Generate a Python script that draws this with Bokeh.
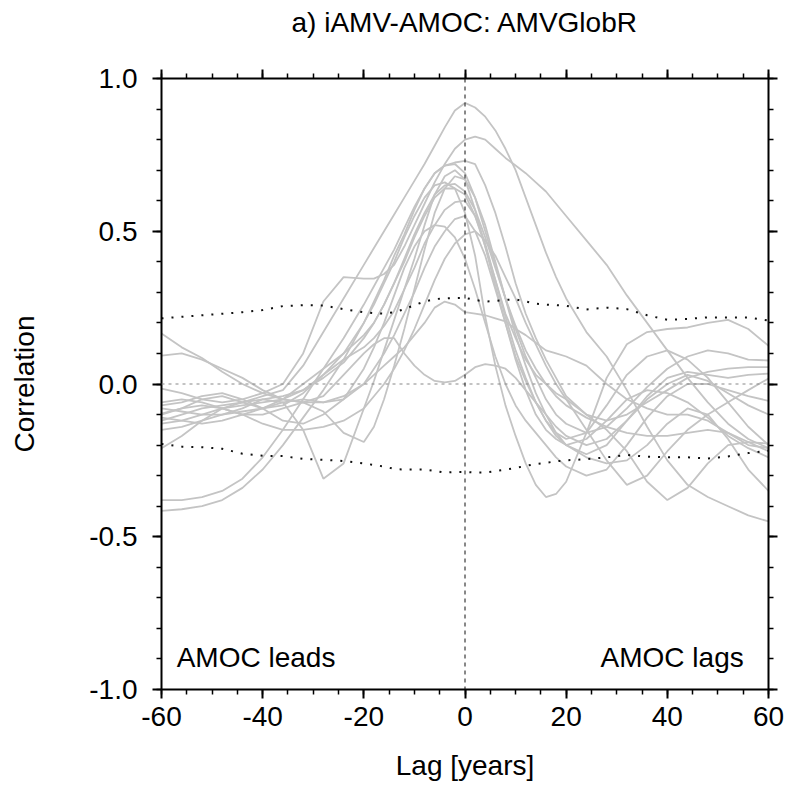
from bokeh.plotting import figure
from bokeh.layouts import column
from bokeh.models import LinearAxis, FixedTicker, PrintfTickFormatter, Span, Label, Range1d
from bokeh.embed import file_html
from bokeh.resources import INLINE

# Lag axis (years): every 4 years in the tails, every 2 years near lag 0
lags = list(range(-60, -20, 4)) + list(range(-20, 21, 2)) + list(range(24, 61, 4))

# Correlation of iAMV with AMOC for each model
m01 = [-0.12,-0.10,-0.08,-0.07,-0.06,-0.04,-0.02,0.06,0.17,0.28,
       0.39,0.445,0.50,0.555,0.61,0.665,0.72,0.78,0.84,0.895,0.92,0.905,0.875,0.83,0.77,0.70,0.61,0.52,0.43,0.35,0.28,
       0.17,0.09,-0.02,-0.14,-0.25,-0.33,-0.37,-0.40,-0.43,-0.45]
m02 = [-0.015,-0.03,-0.05,-0.06,-0.05,-0.03,0.00,0.10,0.27,0.35,
       0.345,0.345,0.36,0.39,0.45,0.52,0.59,0.66,0.72,0.77,0.80,0.81,0.80,0.77,0.74,0.715,0.69,0.66,0.63,0.59,0.55,
       0.47,0.39,0.29,0.20,0.11,0.02,-0.06,-0.13,-0.18,-0.21]
m03 = [-0.38,-0.38,-0.37,-0.35,-0.31,-0.24,-0.15,-0.05,0.05,0.15,
       0.26,0.32,0.38,0.44,0.51,0.58,0.64,0.69,0.715,0.725,0.73,0.72,0.65,0.56,0.45,0.33,0.23,0.15,0.08,0.02,-0.04,
       -0.10,-0.12,-0.10,-0.06,-0.02,0.02,0.04,0.05,0.055,0.055]
m04 = [-0.415,-0.41,-0.40,-0.38,-0.34,-0.28,-0.20,-0.11,-0.02,0.08,
       0.20,0.27,0.34,0.42,0.49,0.57,0.64,0.69,0.715,0.72,0.69,0.61,0.50,0.39,0.28,0.18,0.09,0.02,-0.05,-0.10,-0.13,
       -0.16,-0.14,-0.08,-0.01,0.05,0.09,0.11,0.10,0.08,0.077]
m05 = [-0.08,-0.09,-0.10,-0.10,-0.08,-0.05,-0.06,-0.15,-0.31,-0.26,
       -0.08,0.01,0.11,0.21,0.31,0.41,0.52,0.62,0.68,0.70,0.67,0.57,0.45,0.32,0.20,0.09,0.01,-0.06,-0.12,-0.16,-0.18,
       -0.16,-0.07,0.03,0.09,0.11,0.08,0.02,-0.06,-0.14,-0.20]
m06 = [-0.06,-0.05,-0.06,-0.08,-0.10,-0.10,-0.08,-0.06,-0.09,-0.16,
       -0.19,-0.14,-0.05,0.06,0.18,0.31,0.44,0.56,0.64,0.68,0.67,0.61,0.52,0.40,0.28,0.16,0.06,-0.03,-0.10,-0.16,-0.20,
       -0.23,-0.20,-0.12,-0.04,0.02,0.04,0.03,0.02,0.03,0.034]
m07 = [-0.10,-0.08,-0.05,-0.04,-0.06,-0.08,-0.07,-0.03,0.03,0.10,
       0.20,0.26,0.33,0.40,0.48,0.55,0.61,0.65,0.66,0.64,0.56,0.42,0.22,0.06,-0.07,-0.17,-0.26,-0.33,-0.37,-0.36,-0.32,
       -0.16,0.02,0.13,0.17,0.18,0.185,0.20,0.21,0.18,0.125]
m08 = [-0.11,-0.12,-0.13,-0.12,-0.10,-0.08,-0.05,0.00,0.05,0.10,
       0.16,0.20,0.26,0.33,0.41,0.49,0.56,0.62,0.65,0.655,0.63,0.57,0.48,0.38,0.28,0.19,0.11,0.05,0.00,-0.04,-0.07,
       -0.11,-0.14,-0.16,-0.17,-0.17,-0.16,-0.15,-0.16,-0.19,-0.22]
m09 = [-0.13,-0.12,-0.10,-0.08,-0.07,-0.06,-0.05,-0.02,0.03,0.08,
       0.12,0.15,0.19,0.24,0.31,0.38,0.46,0.52,0.57,0.595,0.60,0.55,0.46,0.34,0.23,0.15,0.08,0.03,0.00,-0.03,-0.05,
       -0.10,-0.15,-0.22,-0.32,-0.38,-0.34,-0.26,-0.20,-0.19,-0.195]
m10 = [-0.15,-0.14,-0.12,-0.10,-0.09,-0.08,-0.06,-0.05,-0.06,-0.05,
       0.00,0.05,0.10,0.16,0.23,0.30,0.38,0.45,0.50,0.54,0.55,0.50,0.42,0.31,0.20,0.08,-0.02,-0.10,-0.15,-0.18,-0.20,
       -0.18,-0.12,-0.05,-0.02,-0.03,-0.06,-0.11,-0.17,-0.21,-0.24]
m11 = [-0.07,-0.06,-0.04,-0.03,-0.05,-0.08,-0.12,-0.13,-0.10,-0.05,
       0.05,0.12,0.20,0.29,0.38,0.45,0.50,0.52,0.515,0.48,0.41,0.31,0.20,0.09,0.00,-0.07,-0.12,-0.16,-0.20,-0.24,-0.27,
       -0.30,-0.28,-0.20,-0.11,-0.04,0.00,0.00,-0.02,-0.04,-0.055]
m12 = [-0.097,-0.08,-0.07,-0.08,-0.10,-0.13,-0.15,-0.15,-0.14,-0.12,
       -0.08,-0.04,0.00,0.05,0.11,0.18,0.26,0.34,0.41,0.46,0.49,0.50,0.47,0.42,0.35,0.28,0.20,0.13,0.06,0.00,-0.05,
       -0.15,-0.25,-0.33,-0.30,-0.22,-0.15,-0.10,-0.06,-0.02,0.018]
m13 = [0.165,0.12,0.085,0.04,0.00,-0.03,-0.05,-0.06,-0.06,-0.04,
       0.00,0.03,0.06,0.09,0.12,0.16,0.20,0.25,0.27,0.26,0.235,0.23,0.225,0.215,0.205,0.18,0.16,0.135,0.11,0.10,0.09,
       0.06,0.00,-0.05,-0.08,-0.10,-0.10,-0.12,-0.16,-0.20,-0.21]
m14 = [0.093,0.10,0.08,0.05,0.02,-0.02,-0.05,-0.06,-0.04,0.03,
       0.10,0.13,0.15,0.15,0.10,0.06,0.03,0.01,0.005,0.01,0.03,0.055,0.065,0.06,0.05,0.02,-0.02,-0.06,-0.10,-0.14,-0.17,
       -0.20,-0.18,-0.12,-0.05,0.00,0.03,0.01,-0.03,-0.07,-0.10]
m15 = [-0.21,-0.17,-0.12,-0.08,-0.06,-0.05,-0.04,-0.02,0.02,0.07,
       0.15,0.20,0.26,0.33,0.40,0.48,0.55,0.61,0.64,0.64,0.62,0.55,0.45,0.34,0.22,0.11,0.02,-0.06,-0.12,-0.17,-0.20,
       -0.24,-0.26,-0.25,-0.20,-0.13,-0.08,-0.10,-0.18,-0.28,-0.35]

# Significance levels (dotted)
sig_upper = [0.215,0.22,0.225,0.23,0.235,0.242,0.255,0.258,0.257,0.245,
             0.235,0.232,0.23,0.235,0.245,0.258,0.27,0.278,0.28,0.281,0.282,0.275,0.27,0.272,0.275,0.277,0.27,0.263,0.26,0.258,0.256,
             0.244,0.25,0.245,0.225,0.21,0.213,0.218,0.218,0.218,0.208]
sig_lower = [-0.196,-0.205,-0.207,-0.212,-0.228,-0.235,-0.236,-0.245,-0.248,-0.252,
             -0.26,-0.265,-0.27,-0.278,-0.28,-0.28,-0.28,-0.285,-0.29,-0.288,-0.288,-0.29,-0.29,-0.285,-0.28,-0.275,-0.268,-0.262,-0.258,-0.253,-0.25,
             -0.246,-0.24,-0.232,-0.238,-0.24,-0.24,-0.244,-0.237,-0.226,-0.218]

x_ticks = [-60, -40, -20, 0, 20, 40, 60]
x_minor = [v for v in range(-60, 61, 5)]
y_ticks = [-1.0, -0.5, 0.0, 0.5, 1.0]
y_minor = [round(-1.0 + 0.1 * i, 1) for i in range(21)]

title_text = "a) iAMV-AMOC: AMVGlobR"
x_label = "Lag [years]"
y_label = "Correlation"
lead_text = "AMOC leads"
lag_text = "AMOC lags"

FONT = "Liberation Sans"
TITLE_H = 50

# Title strip (a figure of its own so the text is not clipped); its frame is
# aligned with the main frame, so it shares the lag range and is centred at lag 0
tf = figure(width=785, height=TITLE_H, output_backend="svg", toolbar_location=None,
            x_range=Range1d(-60, 60), y_range=Range1d(0, TITLE_H),
            x_axis_location=None, y_axis_location=None, min_border=0)
tf.outline_line_color = None
tf.grid.visible = False
tf.add_layout(Label(x=0, y=TITLE_H - 22, text=title_text, text_font=FONT, text_font_size="28px",
                    text_color="black", text_align="center", text_baseline="alphabetic"))

p = figure(width=785, height=785 - TITLE_H, output_backend="svg", toolbar_location=None,
           x_range=Range1d(-60, 60), y_range=Range1d(-1, 1),
           min_border_left=161, min_border_right=17, min_border_top=78 - TITLE_H, min_border_bottom=96)
p.outline_line_color = None
p.grid.visible = False
p.background_fill_color = "white"
p.border_fill_color = "white"

series = [m01, m02, m03, m04, m05, m06, m07, m08, m09, m10, m11, m12, m13, m14, m15]
for s in series:
    p.line(lags, s, line_color="#c4c4c4", line_width=1.8)

p.line(lags, sig_upper, line_color="#111111", line_width=2, line_dash="2 8")
p.line(lags, sig_lower, line_color="#111111", line_width=2, line_dash="2 8")

p.add_layout(Span(location=0, dimension="width", line_color="#888888", line_width=1.2, line_dash="3 4"))
p.add_layout(Span(location=0, dimension="height", line_color="#111111", line_width=1, line_dash="4 4"))

def style_axis(ax, labels=True):
    ax.axis_line_color = "black"
    ax.axis_line_width = 2
    ax.major_tick_line_color = "black"
    ax.major_tick_line_width = 2
    ax.minor_tick_line_color = "black"
    ax.minor_tick_line_width = 1.5
    ax.major_tick_in = 0
    ax.major_tick_out = 9
    ax.minor_tick_in = 0
    ax.minor_tick_out = 5
    if labels:
        ax.major_label_text_font = FONT
        ax.major_label_text_font_size = "28px"
        ax.major_label_text_color = "black"
        ax.axis_label_text_font = FONT
        ax.axis_label_text_font_size = "28px"
        ax.axis_label_text_font_style = "normal"
        ax.axis_label_text_color = "black"
    else:
        ax.major_label_text_font_size = "0px"
        ax.major_label_text_color = None
        ax.major_label_standoff = 0

xb = p.xaxis[0]
xb.ticker = FixedTicker(ticks=x_ticks, minor_ticks=x_minor)
xb.formatter = PrintfTickFormatter(format="%d")
xb.axis_label = x_label
xb.major_label_standoff = 8
xb.axis_label_standoff = 21
style_axis(xb)

yl = p.yaxis[0]
yl.ticker = FixedTicker(ticks=y_ticks, minor_ticks=y_minor)
yl.formatter = PrintfTickFormatter(format="%.1f")
yl.axis_label = y_label
yl.major_label_standoff = 15
yl.axis_label_standoff = 46
style_axis(yl)

xt = LinearAxis(ticker=FixedTicker(ticks=x_ticks, minor_ticks=x_minor))
style_axis(xt, labels=False)
p.add_layout(xt, "above")

yr = LinearAxis(ticker=FixedTicker(ticks=y_ticks, minor_ticks=y_minor))
style_axis(yr, labels=False)
p.add_layout(yr, "right")

p.add_layout(Label(x=-57, y=-0.895, text=lead_text, text_font=FONT, text_font_size="28px",
                   text_color="black", text_align="left", text_baseline="alphabetic"))
p.add_layout(Label(x=55.1, y=-0.895, text=lag_text, text_font=FONT, text_font_size="28px",
                   text_color="black", text_align="right", text_baseline="alphabetic"))

layout = column(tf, p, spacing=0)
open("out.html", "w").write(file_html(layout, INLINE))
